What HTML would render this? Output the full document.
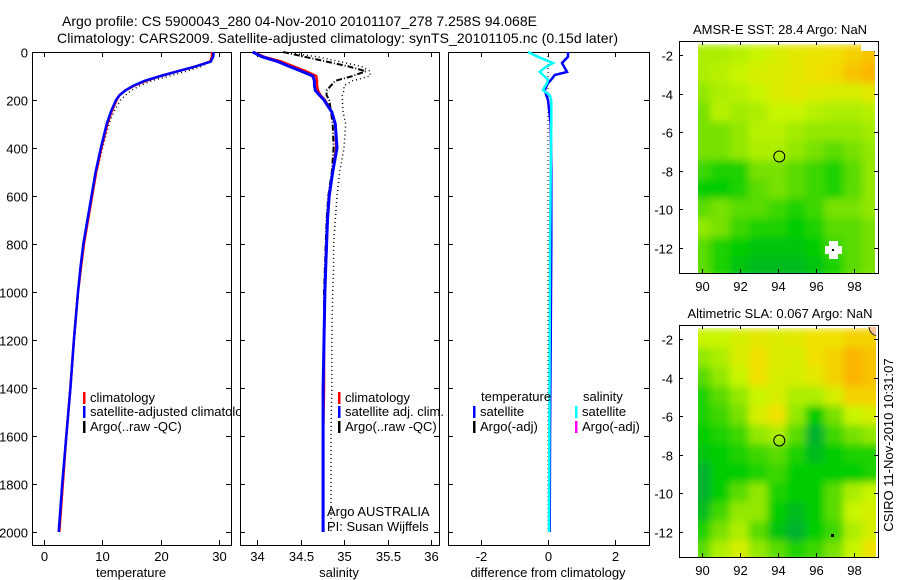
<!DOCTYPE html>
<html><head><meta charset="utf-8"><style>
body{margin:0;background:#fff;}
svg{display:block;font-family:"Liberation Sans",sans-serif;}
text{font-size:13px;fill:#000;}
.tt{font-size:14px;}
</style></head><body>
<svg id="c" width="900" height="580" xmlns="http://www.w3.org/2000/svg">
<defs>
<filter id="bl" x="0" y="0" width="100%" height="100%"><feGaussianBlur stdDeviation="4" edgeMode="duplicate"/></filter>
<clipPath id="cm1"><rect x="698" y="43" width="177" height="230"/></clipPath>
<clipPath id="cm2"><rect x="698" y="327" width="178" height="230"/></clipPath>
<clipPath id="cp1"><rect x="32" y="52" width="208" height="493"/></clipPath>
</defs>
<text class="tt" x="62" y="26" textLength="475">Argo profile: CS 5900043_280 04-Nov-2010 20101107_278 7.258S 94.068E</text>
<text class="tt" x="57" y="43" textLength="561">Climatology: CARS2009. Satellite-adjusted climatology: synTS_20101105.nc (0.15d later)</text>
<g id="g"></g>
</svg>
<script>
// depth grid
const depths = [0,20,40,60,80,100,120,140,160,180,200,250,300,400,500,600,700,800,900,1000,1200,1400,1600,1800,2000];
const tempClim = [28.8,28.8,28.5,26,23,20,17.5,15.5,14,13,12.5,11.6,10.9,9.9,9.0,8.3,7.6,6.9,6.4,5.9,5.2,4.6,3.9,3.3,2.7];
const tempSat  = [29.1,29.0,28.6,26,23,20,17.3,15.4,14,13,12.4,11.5,10.8,9.8,8.9,8.2,7.5,6.8,6.3,5.9,5.2,4.6,3.9,3.2,2.6];
const tempArgo = [28.9,28.8,28.4,27,24.5,21.5,18.5,16.5,15,14,13.2,12,11.2,10.1,9.1,8.3,7.6,6.9,6.4,5.9,5.2,4.6,3.9,3.3,2.7];
const salClim = [33.96,34.08,34.28,34.42,34.56,34.68,34.69,34.69,34.70,34.73,34.78,34.86,34.90,34.91,34.87,34.83,34.81,34.80,34.79,34.78,34.77,34.77,34.76,34.76,34.76];
const salSat  = [33.95,34.06,34.24,34.37,34.51,34.64,34.66,34.66,34.67,34.72,34.77,34.86,34.90,34.92,34.87,34.83,34.81,34.80,34.79,34.78,34.77,34.76,34.76,34.76,34.76];
const salArgo = [34.3,34.7,34.95,35.2,35.3,35.3,35.1,35.0,35.0,34.98,34.98,34.99,35.02,35.0,34.95,34.92,34.9,34.88,34.88,34.87,34.86,34.86,34.85,34.85,34.85];
const salRaw  = [34.3,34.55,34.8,35.05,35.25,35.1,34.9,34.85,34.8,34.8,34.83,34.85,34.87,34.88,34.86,34.82,34.8,34.79,34.78,34.77,34.77,34.76,34.76,34.76,34.76];
const diffDepths = [0,20,46,65,83,96,115,130,158,180,200,300,500,800,1200,1600,2000];
const diffTempSat = [0.6,0.6,0.42,0.5,0.57,0.2,0.1,0.0,-0.1,-0.05,0.0,0.08,0.1,0.1,0.08,0.06,0.05];
const diffSalSat  = [-0.6,-0.3,0.15,-0.1,-0.25,-0.15,0.0,-0.03,-0.15,0.05,0.1,0.1,0.08,0.06,0.05,0.04,0.03];
const tempTicks=[0,10,20,30], salTicks=[34,34.5,35,35.5,36], diffTicks=[-2,0,2];
const depthTicks=[0,200,400,600,800,1000,1200,1400,1600,1800,2000];
const lonTicks=[90,92,94,96,98], latTicks=[-2,-4,-6,-8,-10,-12];
// map grids (rows lat -2..-13, cols lon 90..99), 0=dark green .. 1=orange
const sstGrid=[
[.6,.6,.62,.65,.7,.75,.78,.8,.85,.9],[.6,.62,.65,.7,.72,.75,.8,.82,.9,.95],
[.55,.6,.62,.65,.72,.75,.72,.7,.7,.75],[.5,.62,.58,.6,.65,.65,.62,.6,.6,.62],
[.5,.5,.55,.62,.62,.58,.55,.55,.55,.58],[.5,.5,.55,.6,.6,.55,.5,.45,.5,.55],
[.4,.35,.35,.5,.5,.45,.4,.35,.45,.55],[.3,.3,.35,.45,.5,.45,.4,.35,.45,.55],
[.45,.5,.45,.45,.4,.35,.4,.5,.5,.55],[.55,.5,.4,.35,.35,.3,.35,.45,.45,.5],
[.45,.35,.3,.25,.25,.25,.3,.4,.45,.5],[.45,.35,.25,.2,.2,.2,.25,.35,.45,.5]];
const slaGrid=[
[.65,.65,.7,.75,.72,.75,.8,.8,.85,.85],[.55,.6,.7,.8,.72,.7,.8,.85,.95,.9],
[.45,.55,.65,.8,.7,.7,.75,.85,.95,.9],[.35,.45,.55,.65,.7,.6,.6,.7,.85,.85],
[.35,.4,.5,.7,.8,.55,.3,.5,.65,.7],[.3,.35,.4,.55,.6,.45,.15,.4,.5,.55],
[.25,.3,.35,.4,.45,.35,.2,.3,.35,.35],[.15,.3,.3,.35,.4,.3,.3,.3,.3,.35],
[.15,.3,.45,.55,.35,.3,.3,.45,.6,.65],[.2,.4,.55,.55,.3,.2,.3,.45,.65,.7],
[.35,.5,.6,.45,.25,.15,.3,.4,.6,.7],[.45,.6,.7,.55,.45,.35,.4,.5,.65,.8]];

const NS='http://www.w3.org/2000/svg', G=document.getElementById('g');
function el(t,a,p){const e=document.createElementNS(NS,t);for(const k in a)e.setAttribute(k,a[k]);(p||G).appendChild(e);return e;}
function txt(x,y,s,anchor,p){const e=el('text',{x:x,y:y,'text-anchor':anchor||'start'},p);e.textContent=s;return e;}
const yD=d=>52+d*0.24;
const xT=v=>43.5+v*5.85, xS=v=>257+(v-34)*87, xDf=v=>548+v*33.3;
function line(xs,ds,xf,col,w,dash,name){const pts=xs.map((v,i)=>xf(v).toFixed(1)+','+yD(ds[i]).toFixed(1)).join(' ');
 const e=el('polyline',{points:pts,fill:'none',stroke:col,'stroke-width':w});if(dash)e.setAttribute('stroke-dasharray',dash);
 
 }
function frame(x0,x1,y0,y1,name){const r=el('rect',{x:x0+.5,y:y0+.5,width:x1-x0,height:y1-y0,fill:'none',stroke:'#000'});
 
 }
function xticks(ticks,xf,y0,y1){ticks.forEach(t=>{const x=Math.round(xf(t))+.5;el('line',{x1:x,x2:x,y1:y1,y2:y1-5,stroke:'#000'});el('line',{x1:x,x2:x,y1:y0,y2:y0+5,stroke:'#000'});
 const e=txt(x,y1+16,String(t),'middle');
 });}
function yticksP(x0,x1,labels){depthTicks.forEach(d=>{const y=Math.round(yD(d))+.5;el('line',{x1:x0,x2:x0+5,y1:y,y2:y,stroke:'#000'});el('line',{x1:x1-5,x2:x1,y1:y,y2:y,stroke:'#000'});
 if(labels){const e=txt(x0-4,y+5,String(d),'end');
 }});}
// panel 1
frame(32,231,52,545,'temperature-panel');xticks(tempTicks,xT,52,545);yticksP(32,231,true);
let t=txt(131,577,'temperature','middle');

line(tempArgo,depths,xT,'#000',1.5,'1,3','argo-temperature-dotted');
line(tempClim,depths,xT,'#000',2,'6,2,1,2','argo-temperature-raw');
line(tempClim,depths,xT,'#f00',2.5,null,'climatology-temperature');
line(tempSat,depths,xT,'#00f',2.5,null,'satellite-temperature');
// panel 2
frame(240,439,52,545,'salinity-panel');xticks(salTicks,xS,52,545);yticksP(240,439,false);
t=txt(339,577,'salinity','middle');

line(salArgo,depths,xS,'#000',1.5,'1,3','argo-salinity-dotted');
line(salRaw,depths,xS,'#000',2,'6,2,1,2','argo-salinity-raw');
line(salClim,depths,xS,'#f00',2.5,null,'climatology-salinity');
line(salSat,depths,xS,'#00f',3,null,'satellite-salinity');
// panel 3
frame(448,649,52,545,'difference-panel');xticks(diffTicks,xDf,52,545);yticksP(448,649,false);
t=txt(548,577,'difference from climatology','middle');

line(diffDepths.map(()=>0),diffDepths,xDf,'#000',1,'1,3','zero-reference');
line(diffTempSat,diffDepths,xDf,'#00f',2.5,null,'temperature-satellite-diff');
line(diffSalSat,diffDepths,xDf,'#0ff',2.5,null,'salinity-satellite-diff');
// legends
function leg(x,y,col,s,name,clip){el('rect',{x:x,y:y-10,width:2.5,height:12,fill:col});const e=txt(x+7,y,s);if(clip)e.setAttribute('clip-path','url(#'+clip+')');
 }
leg(83,402,'#f00','climatology','legend-climatology');leg(83,416,'#00f','satellite-adjusted climatology','legend-satellite','cp1');leg(83,431,'#000','Argo(..raw -QC)','legend-argo');
leg(338,402,'#f00','climatology','legend-climatology-sal');leg(338,416,'#00f','satellite adj. clim.','legend-satellite-sal');leg(338,431,'#000','Argo(..raw -QC)','legend-argo-sal');
t=txt(481,401,'temperature');
t=txt(583,401,'salinity');
leg(473,416,'#00f','satellite','legend-temp-satellite');leg(473,431,'#000','Argo(-adj)','legend-temp-argo');
leg(575,416,'#0ff','satellite','legend-sal-satellite');leg(575,431,'#f0f','Argo(-adj)','legend-sal-argo');
t=txt(327,516,'Argo AUSTRALIA');
t=txt(327,531,'PI: Susan Wijffels');
// maps
const stops=[[0,[0,150,90]],[.3,[0,205,0]],[.5,[120,225,0]],[.65,[200,245,0]],[.8,[240,225,0]],[1,[255,165,0]]];
function col(v){for(let i=1;i<stops.length;i++){if(v<=stops[i][0]){const a=stops[i-1],b=stops[i],f=(v-a[0])/(b[0]-a[0]);
 return 'rgb('+a[1].map((c,k)=>Math.round(c+(b[1][k]-c)*f)).join(',')+')';}}return 'rgb(255,165,0)';}
function map(grid,top,name,title,clip){
 const xL=v=>702+(v-90)*19, yL=v=>top+14+(-2-v)*19.3;
 const gg=el('g',{'clip-path':'url(#'+clip+')'});
 const inner=el('g',{filter:'url(#bl)'},gg);
 grid.forEach((row,r)=>row.forEach((v,c)=>{el('rect',{x:xL(89.5+c)-1,y:yL(-1.5-r)-1,width:21,height:21.3,fill:col(v)},inner);}));
 el('ellipse',{cx:xL(99.2),cy:yL(-1.3),rx:8,ry:10,fill:'#f9c597',stroke:'#000','stroke-width':.8},gg);
 frame(679,878,top,top+232,name+'-frame');
 lonTicks.forEach(l=>{const x=Math.round(xL(l))+.5;el('line',{x1:x,x2:x,y1:top,y2:top+4,stroke:'#000'});el('line',{x1:x,x2:x,y1:top+232,y2:top+228,stroke:'#000'});txt(x,top+250,String(l),'middle');});
 latTicks.forEach(l=>{const y=Math.round(yL(l))+.5;el('line',{x1:679,x2:683,y1:y,y2:y,stroke:'#000'});el('line',{x1:874,x2:878,y1:y,y2:y,stroke:'#000'});txt(673,y+5,String(l),'end');});
 const tt=txt(780,top-7,title,'middle');
 const cc=el('circle',{cx:xL(94.068),cy:yL(-7.258),r:5.5,fill:'none',stroke:'#000'});
 return {xL,yL};
}
const m1=map(sstGrid,41,'sst-map','AMSR-E SST: 28.4  Argo: NaN','cm1');
el('rect',{x:825,y:246,width:17,height:8,fill:'#fff'});el('rect',{x:829,y:241,width:9,height:18,fill:'#fff'});el('rect',{x:832,y:249,width:2,height:2,fill:'#000'});
el('rect',{x:861,y:43,width:14,height:8,fill:'#fff'});
const m2=map(slaGrid,325,'sla-map','Altimetric SLA: 0.067  Argo: NaN','cm2');
el('rect',{x:831,y:534,width:3,height:3,fill:'#000'});
t=el('text',{x:0,y:0,transform:'translate(893,445) rotate(-90)','text-anchor':'middle'});t.textContent='CSIRO 11-Nov-2010 10:31:07';


</script>
</body></html>
